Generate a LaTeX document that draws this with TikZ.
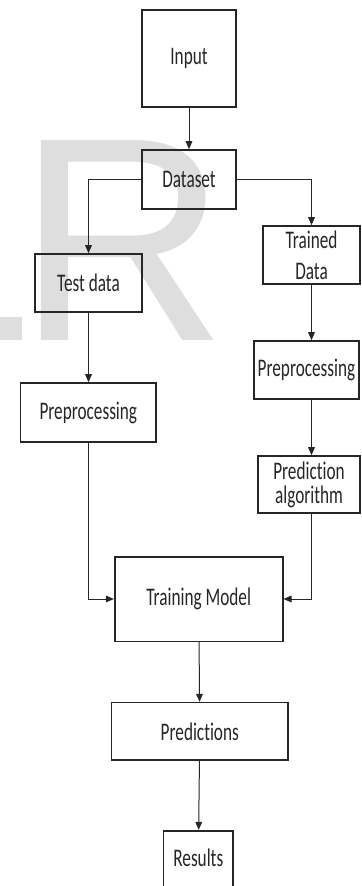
\documentclass[tikz,border=0pt]{standalone}
\usepackage{fontspec}
\setmainfont{Carlito}
\newfontfamily\boxfont[FakeStretch=0.68,Ligatures=NoCommon]{Carlito}
\newfontfamily\markfont{Liberation Sans}
\usetikzlibrary{arrows.meta}

\begin{document}
\begin{tikzpicture}[x=0.75pt,y=-0.75pt,color=black!85,line width=0.75pt,>={Triangle[length=6pt,width=5pt]},
    main/.style = {draw,line width=1.2pt,inner sep=0pt,align=center,font=\boxfont\fontsize{19}{18}\selectfont}]
      \useasboundingbox (0,0) rectangle (361,886);
      \fill[black!13] (0,317) rectangle (22,340);
      \node[anchor=base west,inner sep=0pt,text=black!13,font=\markfont\fontsize{218}{218}\selectfont] (wm) at (17,340) {R};
      \node[main,minimum width=70.5pt,minimum height=72.75pt] (1) at (189,58.5) {Input};
      \node[main,minimum width=70.5pt,minimum height=44.25pt] (2) at (189,179.5) {Dataset};
      \node[main,minimum width=80.25pt,minimum height=43.5pt] (3) at (88.5,283) {Test data};
      \node[main,minimum width=72.75pt,minimum height=43.5pt] (4) at (311.5,255) {Trained\\[5pt]Data};
      \node[main,minimum width=101.6pt,minimum height=44.25pt] (5) at (88.3,412.5) {Preprocessing};
      \node[main,minimum width=78.75pt,minimum height=43.5pt] (6) at (306.5,370) {Preprocessing};
      \node[main,minimum width=76.5pt,minimum height=42.75pt] (7) at (309,484.5) {Prediction\\algorithm};
      \node[main,minimum width=126pt,minimum height=63.45pt] (8) at (198.7,599) {Training Model};
      \node[main,minimum width=132.2pt,minimum height=43pt] (9) at (199.8,731.3) {Predictions};
      \node[main,minimum width=52pt,minimum height=45pt,text depth=4.5pt] (10) at (198.3,860.7) {Results};
      \draw[->] (1) -- (2);
      \draw[->] (2.west) -| (3.north);
      \draw[->] (2.east) -| (4.north);
      \draw[->] (3.south) -- (3.south |- 5.north);
      \draw[->] (4.south) -- (4.south |- 6.north);
      \draw[->] (6.south -| 4.south) -- (4.south |- 7.north);
      \draw[->] (5.south) |- (8.west);
      \draw[->] (7.south -| 4.south) |- (8.east);
      \draw[->] (8) -- (9);
      \draw[->] (9) -- (10);
    \end{tikzpicture}
\end{document}
